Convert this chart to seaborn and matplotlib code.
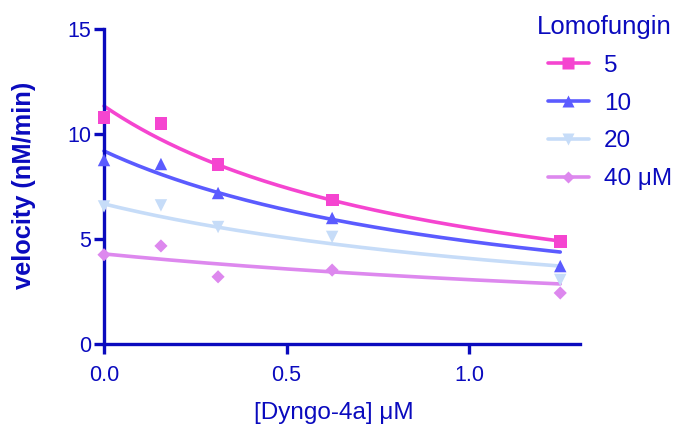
import numpy as np
import pandas as pd
import matplotlib
matplotlib.use("Agg")
import matplotlib.pyplot as plt
from matplotlib.lines import Line2D
import seaborn as sns

# ---- data ----
dyngo = [0.0, 0.156, 0.3125, 0.625, 1.25]
series_labels = ["5", "10", "20", "40 \u03bcM"]
v_5 = [10.8, 10.5, 8.56, 6.86, 4.9]
v_10 = [8.76, 8.57, 7.19, 6.0, 3.71]
v_20 = [6.55, 6.6, 5.57, 5.1, 3.05]
v_40 = [4.25, 4.67, 3.2, 3.52, 2.43]
# fitted curve parameters (v0, K)
fit_v0 = [11.33, 9.19, 6.67, 4.29]
fit_K = [0.954, 1.138, 1.568, 2.5]

colors = ["#F545D0", "#5B5BFF", "#C6DCF8", "#DD88EE"]
markers = ["s", "^", "v", "D"]
msizes = [85, 80, 80, 45]
axis_color = "#0A0ABE"

sns.set_style("ticks")
plt.rcParams["font.family"] = ["Liberation Sans", "DejaVu Sans"]

fig = plt.figure(figsize=(6.78, 4.28), dpi=100)
ax = fig.add_axes([104/678, 1-344/428, (580-104)/678, (344-29)/428])

values = [v_5, v_10, v_20, v_40]
rows = []
for lab, vals in zip(series_labels, values):
    for x, v in zip(dyngo, vals):
        rows.append({"x": x, "v": v, "s": lab})
pts = pd.DataFrame(rows)

xf = np.linspace(0, max(dyngo), 200)
crows = []
for lab, v0, K in zip(series_labels, fit_v0, fit_K):
    for x in xf:
        crows.append({"x": x, "v": v0 / (1 + x / K), "s": lab})
curves = pd.DataFrame(crows)

pal = dict(zip(series_labels, colors))
sns.lineplot(data=curves, x="x", y="v", hue="s", palette=pal, lw=2.6,
             legend=False, ax=ax, clip_on=False)
for lab, m, ms in zip(series_labels, markers, msizes):
    sub = pts[pts["s"] == lab]
    sns.scatterplot(data=sub, x="x", y="v", color=pal[lab], marker=m, s=ms,
                    edgecolor="none", legend=False, ax=ax, clip_on=False, zorder=5)

ax.set_xlim(0, (580-104)/365)
ax.set_ylim(0, 15)
ax.set_xticks([0.0, 0.5, 1.0])
ax.set_xticklabels(["0.0", "0.5", "1.0"])
ax.set_yticks([0, 5, 10, 15])
for s in ["top", "right"]:
    ax.spines[s].set_visible(False)
for s in ["left", "bottom"]:
    ax.spines[s].set_color(axis_color)
    ax.spines[s].set_linewidth(2.4)
ax.tick_params(axis="both", colors=axis_color, width=2.4, length=7,
               labelsize=15.5, labelcolor=axis_color)
ax.tick_params(axis="x", pad=8)
ax.tick_params(axis="y", pad=2)
xl = ax.set_xlabel("[Dyngo-4a] \u03bcM", fontsize=17.5, color=axis_color)
yl = ax.set_ylabel("velocity (nM/min)", fontsize=18.3, color=axis_color,
                   fontweight="bold")
xl.set_verticalalignment("center")
yl.set_verticalalignment("center")
yl.set_horizontalalignment("center")
ax.xaxis.set_label_coords(((252 + 415) / 2 - 104) / (580 - 104), -(413 - 344) / (344 - 29))
ax.yaxis.set_label_coords(-(104 - 24) / (580 - 104), (344 - 185) / (344 - 29))

handles = [Line2D([0], [0], color=c, lw=2.6, marker=m, markersize=ms,
                  markeredgecolor="none")
           for c, m, ms in zip(colors, markers, [9, 8.5, 8.5, 6.5])]
leg = fig.legend(handles, series_labels, title="Lomofungin", frameon=False,
                 loc="upper left", bbox_to_anchor=(537 / 678, 1 - 15 / 428),
                 fontsize=17.5, title_fontsize=18.5, handlelength=1.7,
                 labelspacing=0.65, handletextpad=0.6, borderaxespad=0,
                 borderpad=0, alignment="right")
for t in leg.get_texts():
    t.set_color(axis_color)
leg.get_title().set_color(axis_color)

fig.savefig("out.png", dpi=100)
